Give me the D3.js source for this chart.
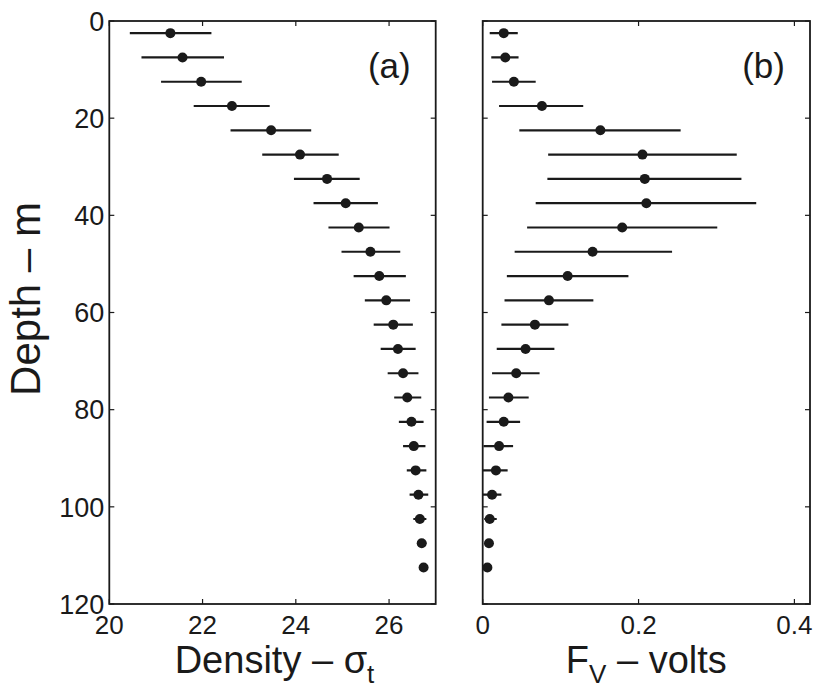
<!DOCTYPE html>
<html>
<head>
<meta charset="utf-8">
<script src="https://cdn.jsdelivr.net/npm/d3@7"></script>
<style>
  body { margin: 0; background: #fff; }
  text { font-family: 'Liberation Sans', Arial, Helvetica, sans-serif; fill: #1a1a1a; }
</style>
</head>
<body>
<div id="chart"></div>
<script>
// depth of each sample, m
const depths = [2.5, 7.5, 12.5, 17.5, 22.5, 27.5, 32.5, 37.5, 42.5, 47.5, 52.5, 57.5,
  62.5, 67.5, 72.5, 77.5, 82.5, 87.5, 92.5, 97.5, 102.5, 107.5, 112.5];

// panel (a): density sigma-t, mean and range
const density = [21.31, 21.57, 21.97, 22.63, 23.47, 24.09, 24.67, 25.07, 25.35, 25.60, 25.79, 25.94,
  26.09, 26.19, 26.30, 26.39, 26.48, 26.53, 26.57, 26.63, 26.66, 26.70, 26.74];
const densityLo = [20.44, 20.69, 21.11, 21.81, 22.60, 23.28, 23.96, 24.38, 24.70, 24.98, 25.24, 25.48,
  25.67, 25.82, 25.97, 26.11, 26.21, 26.30, 26.38, 26.44, 26.52, 26.60, 26.70];
const densityHi = [22.19, 22.46, 22.84, 23.44, 24.33, 24.92, 25.37, 25.76, 26.01, 26.24, 26.36, 26.45,
  26.51, 26.57, 26.63, 26.69, 26.74, 26.78, 26.80, 26.84, 26.80, 26.80, 26.78];

// panel (b): F_V, volts
const fv = [0.027, 0.029, 0.040, 0.076, 0.151, 0.205, 0.208, 0.210, 0.179, 0.141, 0.109, 0.085,
  0.067, 0.055, 0.043, 0.033, 0.027, 0.021, 0.017, 0.012, 0.009, 0.008, 0.006];
const fvLo = [0.009, 0.011, 0.012, 0.021, 0.047, 0.084, 0.083, 0.068, 0.057, 0.041, 0.031, 0.028,
  0.024, 0.018, 0.012, 0.008, 0.005, 0.001, -0.002, -0.004, 0.002, 0.004, 0.004];
const fvHi = [0.045, 0.046, 0.068, 0.129, 0.254, 0.326, 0.332, 0.351, 0.301, 0.243, 0.187, 0.142,
  0.110, 0.092, 0.073, 0.059, 0.048, 0.039, 0.032, 0.024, 0.018, 0.012, 0.008];

const depthTicks = [0, 20, 40, 60, 80, 100, 120];
const densityTicks = [20, 22, 24, 26];
const fvTicks = [0, 0.2, 0.4];

const width = 814;
const height = 690;
const ink = '#1a1a1a';

const svg = d3.select('#chart').append('svg')
  .attr('width', width)
  .attr('height', height);

const yScale = d3.scaleLinear()
  .domain([0, 120])
  .range([21, 604]);

const panels = [
  {
    id: 'a',
    tag: '(a)',
    x: d3.scaleLinear().domain([20, 27]).range([109.3, 435.7]),
    ticks: densityTicks,
    fmt: d3.format('d'),
    mid: density, lo: densityLo, hi: densityHi,
    yLabels: true,
  },
  {
    id: 'b',
    tag: '(b)',
    x: d3.scaleLinear().domain([0, 0.42]).range([482.7, 810]),
    ticks: fvTicks,
    fmt: d => (d === 0 ? '0' : d3.format('.1f')(d)),
    mid: fv, lo: fvLo, hi: fvHi,
    yLabels: false,
  },
];

panels.forEach(function (p) {
  const [x0, x1] = p.x.range();
  const [y0, y1] = yScale.range();
  const g = svg.append('g').attr('class', `panel-${p.id}`);

  g.append('clipPath')
    .attr('id', `clip-${p.id}`)
    .append('rect')
    .attr('x', x0).attr('y', y0)
    .attr('width', x1 - x0).attr('height', y1 - y0);

  const rows = depths.map((d, i) => ({ depth: d, mid: p.mid[i], lo: p.lo[i], hi: p.hi[i] }));

  const marks = g.append('g').attr('clip-path', `url(#clip-${p.id})`);

  marks.selectAll('.errbar')
    .data(rows)
    .enter()
    .append('line')
    .attr('class', 'errbar')
    .attr('x1', d => p.x(d.lo))
    .attr('x2', d => p.x(d.hi))
    .attr('y1', d => yScale(d.depth))
    .attr('y2', d => yScale(d.depth))
    .attr('stroke', ink)
    .attr('stroke-width', 2.2);

  marks.selectAll('.dot')
    .data(rows)
    .enter()
    .append('circle')
    .attr('class', 'dot')
    .attr('cx', d => p.x(d.mid))
    .attr('cy', d => yScale(d.depth))
    .attr('r', 5)
    .attr('fill', ink);

  // inward ticks on all four sides, matlab style
  const tickLen = 5;
  p.ticks.forEach(function (t) {
    g.append('line')
      .attr('x1', p.x(t)).attr('x2', p.x(t))
      .attr('y1', y1).attr('y2', y1 - tickLen)
      .attr('stroke', ink).attr('stroke-width', 1.2);
    g.append('line')
      .attr('x1', p.x(t)).attr('x2', p.x(t))
      .attr('y1', y0).attr('y2', y0 + tickLen)
      .attr('stroke', ink).attr('stroke-width', 1.2);
    g.append('text')
      .attr('x', p.x(t))
      .attr('y', y1 + 30)
      .attr('text-anchor', 'middle')
      .style('font-size', '26px')
      .text(p.fmt(t));
  });

  depthTicks.forEach(function (t) {
    g.append('line')
      .attr('x1', x0).attr('x2', x0 + tickLen)
      .attr('y1', yScale(t)).attr('y2', yScale(t))
      .attr('stroke', ink).attr('stroke-width', 1.2);
    g.append('line')
      .attr('x1', x1).attr('x2', x1 - tickLen)
      .attr('y1', yScale(t)).attr('y2', yScale(t))
      .attr('stroke', ink).attr('stroke-width', 1.2);
    if (p.yLabels) {
      g.append('text')
        .attr('x', x0 - 5)
        .attr('y', yScale(t))
        .attr('dy', '0.36em')
        .attr('text-anchor', 'end')
        .style('font-size', '27px')
        .text(t);
    }
  });

  g.append('rect')
    .attr('x', x0).attr('y', y0)
    .attr('width', x1 - x0).attr('height', y1 - y0)
    .attr('fill', 'none')
    .attr('stroke', ink)
    .attr('stroke-width', 1.8);

  g.append('text')
    .attr('x', x1 - 25)
    .attr('y', 78)
    .attr('text-anchor', 'end')
    .style('font-size', '35px')
    .text(p.tag);
});

// axis titles
const xa = panels[0].x.range();
const xb = panels[1].x.range();

const titleA = svg.append('text')
  .attr('x', (xa[0] + xa[1]) / 2 + 2)
  .attr('y', 673)
  .attr('text-anchor', 'middle')
  .style('font-size', '38px');
titleA.append('tspan').text('Density \u2013 \u03c3');
titleA.append('tspan').attr('dy', 10).style('font-size', '26px').text('t');

const titleB = svg.append('text')
  .attr('x', (xb[0] + xb[1]) / 2)
  .attr('y', 673)
  .attr('text-anchor', 'middle')
  .style('font-size', '38px');
titleB.append('tspan').text('F');
titleB.append('tspan').attr('dy', 10).style('font-size', '26px').text('V');
titleB.append('tspan').attr('dy', -10).text(' \u2013 volts');

svg.append('text')
  .attr('transform', 'translate(40, 299) rotate(-90)')
  .attr('text-anchor', 'middle')
  .style('font-size', '42px')
  .text('Depth \u2013 m');
</script>
</body>
</html>
